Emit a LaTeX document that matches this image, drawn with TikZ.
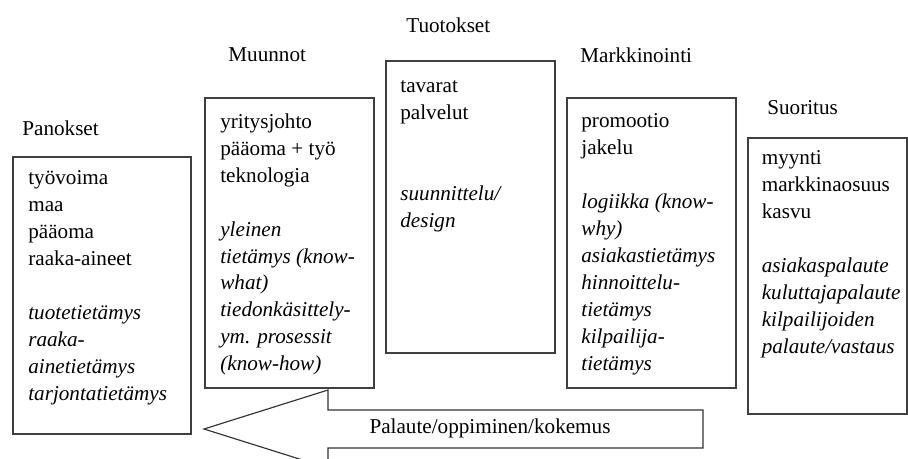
\documentclass[tikz,border=0pt]{standalone}
\usepackage{fontspec}
\setmainfont{Liberation Serif}
\usetikzlibrary{positioning}
\newcommand{\px}{0.52pt}
\tikzset {
  % frame round each stage
  stage box/.style = {
    draw = black!75,
    line width = 0.8pt,
    rectangle,
    anchor = north west,
    inner sep = 0
  },
  % heading above a frame
  stage title/.style = {
    anchor = west,
    inner sep = 0,
    font = \fontsize{11}{14}\selectfont
  },
  % list inside a frame
  stage list/.style = {
    align = left,
    inner sep = 0,
    font = \fontsize{11}{14}\selectfont
  },
  % big arrow back to the start
  feedback/.style = {
    draw = black!80,
    line width = 0.6pt,
    fill = white
  }
}

\begin{document}
\begin{tikzpicture}[x=\px, y=-\px]
    \useasboundingbox (0,0) rectangle (908,459);

    % headings
    \node[stage title] (inputs-title) at (22,128) {Panokset};
    \node[stage title] (process-title) at (228,55) {Muunnot};
    \node[stage title] (outputs-title) at (406,25) {Tuotokset};
    \node[stage title] (market-title) at (580,55) {Markkinointi};
    \node[stage title] (result-title) at (767,108) {Suoritus};

    % frames
    \node[stage box, minimum width=178*\px, minimum height=277*\px] (inputs) at (12,156) {};
    \node[stage box, minimum width=169*\px, minimum height=290*\px] (process) at (204,97) {};
    \node[stage box, minimum width=169*\px, minimum height=292*\px] (outputs) at (385,60) {};
    \node[stage box, minimum width=169*\px, minimum height=290*\px] (market) at (566,97) {};
    \node[stage box, minimum width=159*\px, minimum height=276*\px] (result) at (747,137) {};

    % contents
    \node[stage list] (inputs-list) [below right=7.5pt and 8.3pt of inputs.north west]
      {työvoima\\maa\\pääoma\\raaka-aineet\\[14pt]
       \textit{tuotetietämys}\\\textit{raaka-}\\\textit{ainetietämys}\\\textit{tarjontatietämys}};
    \node[stage list] (process-list) [below right=8.5pt and 8.3pt of process.north west]
      {yritysjohto\\pääoma + työ\\teknologia\\[14pt]
       \textit{yleinen}\\\textit{tietämys (know-}\\\textit{what)}\\\textit{tiedonkäsittely-}\\
       \textit{ym. prosessit}\\\textit{(know-how)}};
    \node[stage list] (outputs-list) [below right=10.5pt and 7.8pt of outputs.north west]
      {tavarat\\palvelut\\[28pt]
       \textit{suunnittelu/}\\\textit{design}};
    \node[stage list] (market-list) [below right=8.5pt and 7.8pt of market.north west]
      {promootio\\jakelu\\[14pt]
       \textit{logiikka (know-}\\\textit{why)}\\\textit{asiakastietämys}\\\textit{hinnoittelu-}\\
       \textit{tietämys}\\\textit{kilpailija-}\\\textit{tietämys}};
    \node[stage list] (result-list) [below right=7pt and 7.5pt of result.north west]
      {myynti\\markkinaosuus\\kasvu\\[14pt]
       \textit{asiakaspalaute}\\\textit{kuluttajapalaute}\\\textit{kilpailijoiden}\\
       \textit{palaute/vastaus}};

    % feedback arrow
    \draw[feedback] (204,429) -- (328,390) -- (328,410) -- (703,410)
      -- (703,448) -- (328,448) -- (328,468) -- cycle;
    \node[stage title, anchor=center] (feedback-label) at (490,428) {Palaute/oppiminen/kokemus};
\end{tikzpicture}
\end{document}
